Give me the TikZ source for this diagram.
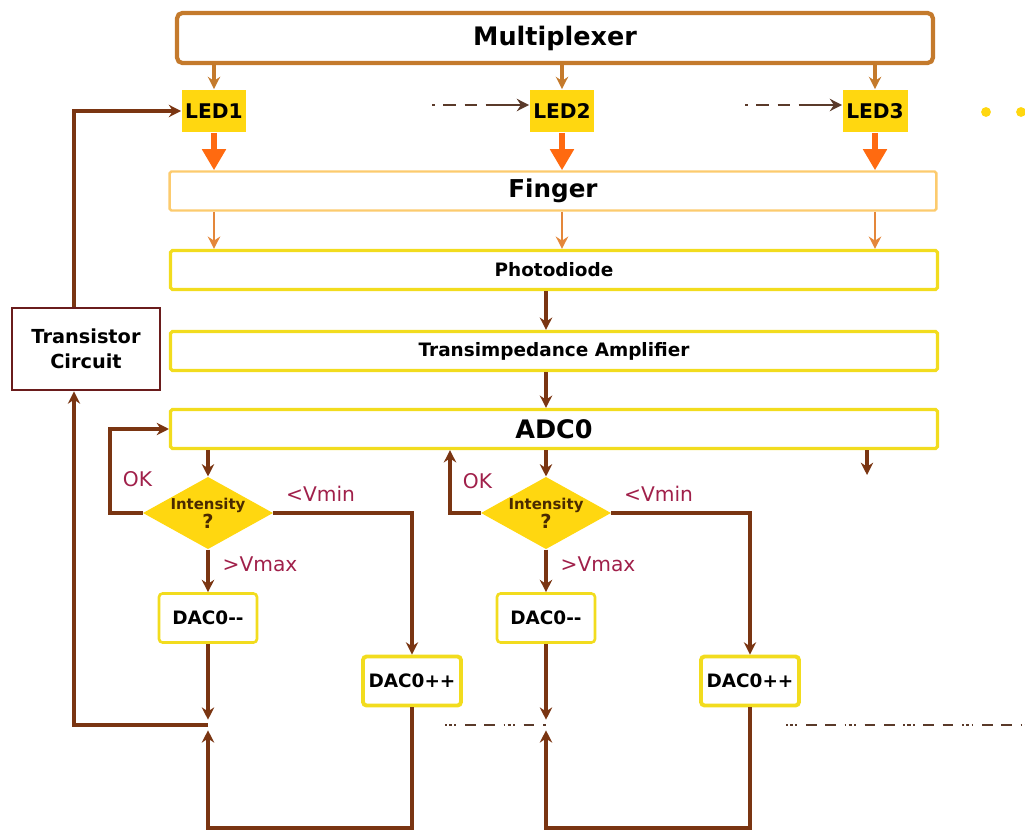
\documentclass[tikz,border=0pt]{standalone}
\usepackage{fontspec}
\setmainfont{DejaVu Sans}
\usepackage{tikz}
\usetikzlibrary{arrows.meta, positioning, calc, shapes.geometric}
\tikzset{every node/.style={font=\bfseries}}
\usepackage{xcolor}
\definecolor{muxbrown}{HTML}{C47A2C}
\definecolor{ledyellow}{HTML}{FFD710}
\definecolor{beamorange}{HTML}{FF6A10}
\definecolor{gloworange}{HTML}{E4873A}
\definecolor{fingeredge}{HTML}{FCCB6E}
\definecolor{boxyellow}{HTML}{F2DC1E}
\definecolor{wirebrown}{HTML}{7A3512}
\definecolor{transred}{HTML}{6A1C1C}
\definecolor{labelred}{HTML}{A0204A}
\definecolor{inkbrown}{HTML}{4A2A00}
\definecolor{hintgray}{HTML}{5A3A2A}

\begin{document}
\begin{tikzpicture}[
    x=0.02cm, y=-0.02cm,
    >={Stealth[length=7pt, width=7pt]},
    stagebox/.style={draw=boxyellow, line width=1.8pt, rounded corners=1pt, inner sep=0pt, minimum width=15.34cm, minimum height=0.78cm},
    ledbox/.style={fill=ledyellow, inner sep=0pt, minimum width=1.3cm, minimum height=0.86cm, font=\fontsize{11.5}{13}\selectfont\bfseries},
    dacbox/.style={draw=boxyellow, line width=1.5pt, rounded corners=2pt, fill=white, inner sep=0pt, minimum width=1.96cm, minimum height=0.98cm, font=\fontsize{10.5}{12}\selectfont\bfseries},
    testbox/.style={diamond, fill=ledyellow, aspect=1.8, inner sep=0pt, minimum width=2.5cm, minimum height=1.4cm, align=center, text=inkbrown, font=\fontsize{8.5}{9}\selectfont\bfseries},
    wire/.style={draw=wirebrown, line width=2pt},
    feed/.style={draw=muxbrown, line width=1.8pt, ->},
    glow/.style={draw=gloworange, line width=1.6pt, ->},
    beam/.style={draw=beamorange, line width=3.6pt, -{Triangle[length=12pt, width=13pt]}},
    hint/.style={draw=hintgray, line width=1.3pt, dash pattern=on 1.5pt off 5pt on 7pt off 5pt on 7pt off 5pt on 20pt},
    trail/.style={draw=hintgray, line width=1.3pt, dash pattern=on 1pt off 1.2pt on 2pt off 1.2pt on 1pt off 5pt on 6pt off 5pt on 6pt off 5pt},
    lbl/.style={text=labelred, font=\fontsize{11.5}{13}\selectfont},
  ]
  \useasboundingbox (0,0) rectangle (1025,831);

  % stages
  \node[stagebox, draw=muxbrown, line width=2.4pt, rounded corners=3pt, minimum width=15.12cm, minimum height=1cm, font=\fontsize{14.5}{16}\selectfont\bfseries] (mux) at (555,38) {Multiplexer};
  \node[stagebox, draw=fingeredge, line width=1.4pt, font=\fontsize{14}{16}\selectfont\bfseries] (finger) at (553,191) {Finger};
  \node[stagebox, font=\fontsize{10.5}{12}\selectfont\bfseries] (photo) at (554,270) {Photodiode};
  \node[stagebox, font=\fontsize{10.5}{12}\selectfont\bfseries] (tia) at (554,351) {Transimpedance Amplifier};
  \node[stagebox, font=\fontsize{14.5}{16}\selectfont\bfseries] (adc) at (554,429) {ADC0};

  % LEDs
  \node[ledbox] (led1) at (214,111) {LED1};
  \node[ledbox] (led2) at (562,111) {LED2};
  \node[ledbox] (led3) at (875,111) {LED3};
  \fill[ledyellow] (986,112) circle[radius=2.8pt];
  \fill[ledyellow] (1021,112) circle[radius=2.8pt];

  \node[draw=transred, line width=1.6pt, fill=white, align=center, minimum width=2.96cm, minimum height=1.64cm, font=\fontsize{11}{14}\selectfont\bfseries] (trans) at (86,349) {Transistor\\Circuit};

  % intensity checks
  \node[testbox] (d1) at (208,513) {Intensity\\{\fontsize{11}{11}\selectfont ?}};
  \node[testbox] (d2) at (546,513) {Intensity\\{\fontsize{11}{11}\selectfont ?}};
  \node[dacbox] (dacm1) at (208,618) {DAC0-{}-};
  \node[dacbox] (dacm2) at (546,618) {DAC0-{}-};
  \node[dacbox, line width=2.2pt] (dacp1) at (412,681) {DAC0++};
  \node[dacbox, line width=2.2pt] (dacp2) at (750,681) {DAC0++};

  \coordinate (ok1) at (110,513);
  \coordinate (ok2) at (450,513);
  \coordinate (j1) at (208,725);
  \coordinate (j2) at (546,725);
  \coordinate (low1) at (208,828);
  \coordinate (low2) at (546,828);
  \coordinate (fb) at (74,725);
  \coordinate (more) at (867,475);
  \coordinate (dash1) at (432,105);
  \coordinate (dash2) at (745,105);
  \coordinate (dash3) at (445,725);
  \coordinate (dash4) at (786,725);
  \coordinate (dash5) at (1025,725);

  % multiplexer drives the LEDs
  \draw[feed] (mux.south -| led1) -- (led1.north);
  \draw[feed] (mux.south -| led2) -- (led2.north);
  \draw[feed] (mux.south -| led3) -- (led3.north);
  \draw[hint, ->] (dash1) -- (dash1 -| led2.west);
  \draw[hint, ->] (dash2) -- (dash2 -| led3.west);

  % light through the finger
  \draw[beam] (led1.south) -- (led1.south |- finger.north);
  \draw[beam] (led2.south) -- (led2.south |- finger.north);
  \draw[beam] (led3.south) -- (led3.south |- finger.north);
  \draw[glow] (finger.south -| led1) -- (photo.north -| led1);
  \draw[glow] (finger.south -| led2) -- (photo.north -| led2);
  \draw[glow] (finger.south -| led3) -- (photo.north -| led3);

  % signal chain
  \draw[wire, ->] (photo.south -| d2) -- (tia.north -| d2);
  \draw[wire, ->] (tia.south -| d2) -- (adc.north -| d2);
  \draw[wire, ->] (adc.south -| d1) -- (d1.north);
  \draw[wire, ->] (adc.south -| d2) -- (d2.north);
  \draw[wire, ->] (adc.south -| more) -- (more);

  % first loop
  \draw[wire, ->] (d1.west) -- (ok1) |- node[lbl, pos=0.2, right=3pt] {OK} (adc.west);
  \draw[wire, ->] (d1.east) -| node[lbl, pos=0.17, above=2pt] {<Vmin} (dacp1.north);
  \draw[wire, ->] (d1.south) -- node[lbl, pos=0.35, right=4pt] {>Vmax} (dacm1.north);
  \draw[wire, ->, shorten >=3pt] (dacm1.south) -- (j1);
  \draw[wire, ->, shorten >=3pt] (dacp1.south) |- (low1) -- (j1);
  \draw[wire, ->] (j1) -- (fb) -- (fb |- trans.south);
  \draw[wire, ->] (fb |- trans.north) |- (led1.west);

  % second loop
  \draw[wire, ->] (d2.west) -- (ok2) -- node[lbl, pos=0.5, right=3pt] {OK} (ok2 |- adc.south);
  \draw[wire, ->] (d2.east) -| node[lbl, pos=0.17, above=2pt] {<Vmin} (dacp2.north);
  \draw[wire, ->] (d2.south) -- node[lbl, pos=0.35, right=4pt] {>Vmax} (dacm2.north);
  \draw[wire, ->, shorten >=3pt] (dacm2.south) -- (j2);
  \draw[wire, ->, shorten >=3pt] (dacp2.south) |- (low2) -- (j2);
  \draw[trail] (dash3) -- (j2);
  \draw[trail] (dash4) -- (dash5);
\end{tikzpicture}
\end{document}
